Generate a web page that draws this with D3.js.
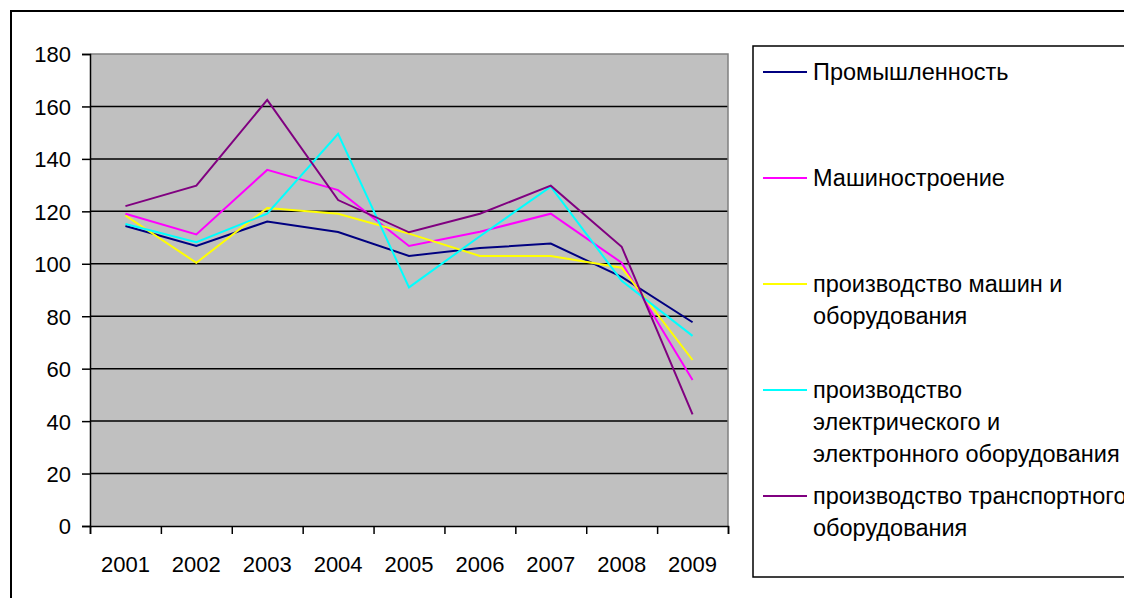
<html>
<head>
<script src="https://d3js.org/d3.v7.min.js"></script>
<style>
  body { margin: 0; background: #fff; }
  text { font-family: "Liberation Sans", Arial, sans-serif; font-size: 22px; fill: #000; }
  .legend-text { font-size: 23.5px; }
</style>
</head>
<body>
<svg id="chart"></svg>
<script>
// data
var years = ["2001", "2002", "2003", "2004", "2005", "2006", "2007", "2008", "2009"];
var yTicks = [0, 20, 40, 60, 80, 100, 120, 140, 160, 180];

var seriesNames = [
  "Промышленность",
  "Машиностроение",
  "производство машин и\nоборудования",
  "производство\nэлектрического и\nэлектронного оборудования",
  "производство транспортного\nоборудования"
];
var seriesColors = ["#000080", "#FF00FF", "#FFFF00", "#00FFFF", "#800080"];

var industry  = [114.4, 106.8, 116.1, 112.1, 103.0, 106.0, 107.7, 95.0, 77.7];
var machinery = [119.1, 111.2, 135.8, 128.1, 106.8, 112.2, 119.1, 100.4, 55.7];
var machines  = [118.4, 100.4, 121.3, 119.1, 111.5, 103.0, 103.0, 98.5, 63.3];
var electric  = [115.2, 108.2, 119.1, 149.6, 91.0, 110.5, 129.4, 93.5, 72.5];
var transport = [122.0, 129.8, 162.5, 124.3, 112.0, 119.1, 129.8, 106.5, 42.6];

var seriesValues = [industry, machinery, machines, electric, transport];

var w = 1124;
var h = 598;
var plot = { left: 90, top: 54, right: 728, bottom: 526 };

var svg = d3.select("#chart")
    .attr("width", w)
    .attr("height", h);

svg.append("rect")
    .attr("width", w).attr("height", h)
    .attr("fill", "#fff");

// outer chart frame (runs off the right and bottom edge)
svg.append("rect")
    .attr("x", 11).attr("y", 11)
    .attr("width", w + 20).attr("height", h + 20)
    .attr("fill", "none")
    .attr("stroke", "#000")
    .attr("stroke-width", 2);

var xScale = d3.scaleBand()
    .domain(years)
    .range([plot.left, plot.right]);

var yScale = d3.scaleLinear()
    .domain([0, 180])
    .range([plot.bottom, plot.top]);

// plot area
svg.append("rect")
    .attr("x", plot.left).attr("y", plot.top)
    .attr("width", plot.right - plot.left)
    .attr("height", plot.bottom - plot.top)
    .attr("fill", "#C0C0C0");

// gridlines
svg.append("g")
    .selectAll("line")
    .data(yTicks.filter(function (d) { return d > 0 && d < 180; }))
    .enter()
    .append("line")
    .attr("x1", plot.left).attr("x2", plot.right)
    .attr("y1", function (d) { return yScale(d); })
    .attr("y2", function (d) { return yScale(d); })
    .attr("stroke", "#000")
    .attr("stroke-width", 1.5);

// gray border on top and right
svg.append("path")
    .attr("d", "M" + plot.left + "," + plot.top + "H" + plot.right + "V" + plot.bottom)
    .attr("fill", "none")
    .attr("stroke", "#808080")
    .attr("stroke-width", 1.5);

// y axis
var yAxis = d3.axisLeft(yScale)
    .tickValues(yTicks)
    .tickSize(8)
    .tickPadding(11);

var gy = svg.append("g")
    .attr("transform", "translate(" + plot.left + ",0)")
    .call(yAxis);
gy.select(".domain").attr("stroke", "#000").attr("stroke-width", 1.5);
gy.selectAll(".tick line").attr("stroke", "#000").attr("stroke-width", 1.5);
gy.selectAll("text")
    .attr("font-size", null).attr("font-family", null)
    .attr("dy", "0.36em");

// x axis: ticks between categories
var boundary = d3.scaleLinear().domain([0, years.length]).range([plot.left, plot.right]);
var xTickAxis = d3.axisBottom(boundary)
    .tickValues(d3.range(0, years.length + 1))
    .tickSize(8)
    .tickFormat("");

var gx = svg.append("g")
    .attr("transform", "translate(0," + plot.bottom + ")")
    .call(xTickAxis);
gx.select(".domain").attr("stroke", "#000").attr("stroke-width", 1.5);
gx.selectAll(".tick line").attr("stroke", "#000").attr("stroke-width", 1.5);

var xLabelAxis = d3.axisBottom(xScale).tickSize(0).tickPadding(30);
var gxl = svg.append("g")
    .attr("transform", "translate(0," + plot.bottom + ")")
    .call(xLabelAxis);
gxl.select(".domain").remove();
gxl.selectAll("text").attr("font-size", null).attr("font-family", null);

// series lines
var line = d3.line()
    .x(function (d, i) { return xScale(years[i]) + xScale.bandwidth() / 2; })
    .y(function (d) { return yScale(d); });

svg.append("g")
    .selectAll("path")
    .data(seriesValues)
    .enter()
    .append("path")
    .attr("d", line)
    .attr("fill", "none")
    .attr("stroke", function (d, i) { return seriesColors[i]; })
    .attr("stroke-width", 2)
    .attr("stroke-linejoin", "miter");

// legend
var legend = svg.append("g");
legend.append("rect")
    .attr("x", 753).attr("y", 46)
    .attr("width", 420).attr("height", 531)
    .attr("fill", "#fff")
    .attr("stroke", "#000")
    .attr("stroke-width", 1.5);

var items = legend.selectAll("g.item")
    .data(seriesNames)
    .enter()
    .append("g")
    .attr("class", "item")
    .attr("transform", function (d, i) { return "translate(763," + (72 + i * 106) + ")"; });

items.append("line")
    .attr("x1", 0).attr("x2", 44)
    .attr("stroke", function (d, i) { return seriesColors[i]; })
    .attr("stroke-width", 2);

items.append("text")
    .attr("class", "legend-text")
    .attr("x", 50)
    .selectAll("tspan")
    .data(function (d) { return d.split("\n"); })
    .enter()
    .append("tspan")
    .attr("x", 50)
    .attr("y", function (d, i) { return i * 32; })
    .attr("dy", "0.36em")
    .text(function (d) { return d; });
</script>
</body>
</html>
